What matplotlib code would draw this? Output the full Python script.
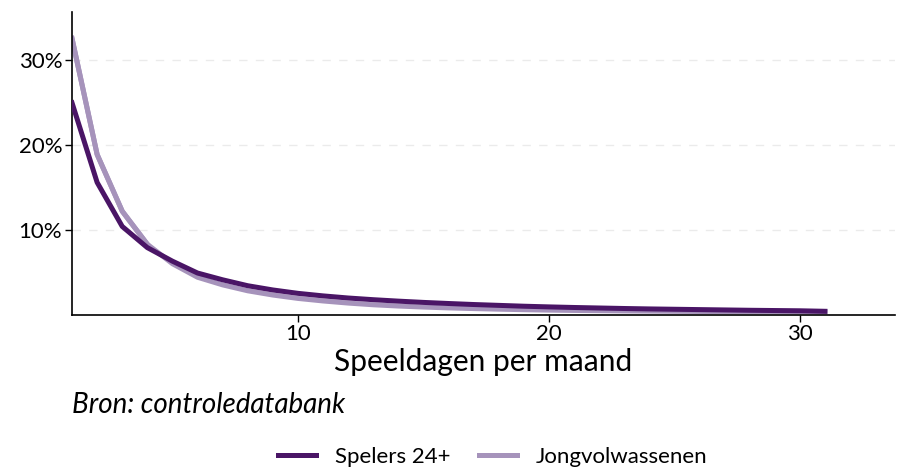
import matplotlib
matplotlib.use("Agg")
import matplotlib.pyplot as plt
from matplotlib.ticker import FuncFormatter

plt.rcParams["font.family"] = ["Lato", "DejaVu Sans"]

# speeldagen per maand (1..31)
dagen = list(range(1, 32))
# aandeel spelers (%) per aantal speeldagen
spelers_24 = [25.0, 15.6, 10.4, 7.9, 6.3, 4.9, 4.1, 3.4, 2.9, 2.5,
              2.2, 1.95, 1.75, 1.58, 1.43, 1.3, 1.18, 1.08, 0.98, 0.9,
              0.83, 0.77, 0.71, 0.66, 0.62, 0.58, 0.54, 0.5, 0.47, 0.44, 0.38]
jongvolw = [32.6, 18.9, 12.2, 8.3, 6.0, 4.4, 3.5, 2.8, 2.3, 1.9,
            1.6, 1.35, 1.15, 1.0, 0.88, 0.78, 0.7, 0.63, 0.57, 0.52,
            0.48, 0.45, 0.42, 0.4, 0.38, 0.36, 0.35, 0.34, 0.33, 0.33, 0.3]

DONKER = "#4a1566"
LICHT = "#a693bb"

fig = plt.figure(figsize=(8.97, 4.69), dpi=100)
ax = fig.add_axes([0.0803, 0.3294, 0.9177, 0.6446])

ax.plot(dagen, spelers_24, color=DONKER, lw=3.6, label="Spelers 24+", zorder=3)
ax.plot(dagen, jongvolw, color=LICHT, lw=3.6, label="Jongvolwassenen", zorder=2)
# lichte lijn aan de start bovenop
ax.plot(dagen[:4], jongvolw[:4], color=LICHT, lw=3.6, zorder=2.5)

ax.set_xlim(1, 33.8)
ax.set_ylim(0, 35.7)
ax.set_xticks([10, 20, 30])
ax.set_yticks([10, 20, 30])
ax.yaxis.set_major_formatter(FuncFormatter(lambda v, _: f"{v:.0f}%"))
ax.grid(axis="y", color="#ebebeb", ls=(0, (6, 6)), lw=1.0)
ax.set_axisbelow(True)
for s in ("top", "right"):
    ax.spines[s].set_visible(False)
for s in ("left", "bottom"):
    ax.spines[s].set_linewidth(1.2)
ax.tick_params(axis="both", labelsize=16, length=5, width=1.0, colors="black", pad=2)

ax.set_xlabel("Speeldagen per maand", fontsize=21.5, labelpad=3)
fig.text(0.0803, 1 - 405 / 469, "Bron: controledatabank", fontsize=20, style="italic",
         ha="left", va="center")

fig.legend(loc="center", bbox_to_anchor=(493 / 897, 1 - 457 / 469), ncol=2, frameon=False,
           fontsize=16, handlelength=1.7, columnspacing=1.3, handletextpad=0.85)

fig.savefig("out.png", dpi=100)
